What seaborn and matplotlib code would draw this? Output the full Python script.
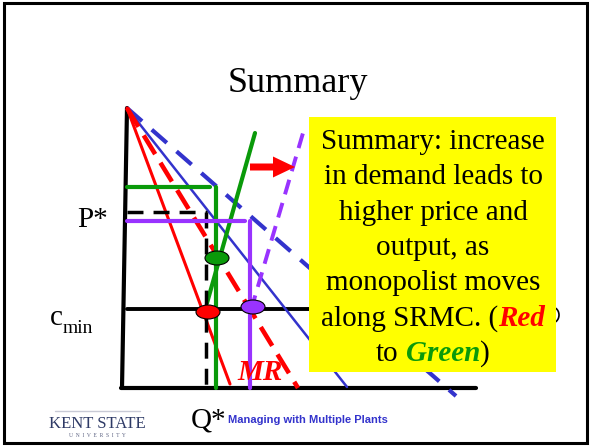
import matplotlib
matplotlib.use("Agg")
import matplotlib.pyplot as plt
from matplotlib.patches import Ellipse, Rectangle, FancyArrow, Arc
import seaborn as sns

# slide drawn in pixel units: x to the right, y downwards
W, H = 590, 448

# demand and marginal revenue curves, all from the price intercept
mr1_x = [127, 230]
mr1_y = [108, 384]
mr2_x = [127, 298]
mr2_y = [108, 388]
d1_x = [127, 347]
d1_y = [108, 387]
d2_x = [127, 456]
d2_y = [108, 396]

# short-run marginal cost curves
srmc1_x = [207, 255]
srmc1_y = [303, 133]
srmc2_x = [251, 303]
srmc2_y = [310, 133]

# price / quantity guide lines: (price level, quantity level, end of price line)
green_pq = [187, 216, 210]
black_pq = [212, 206, 207]
purple_pq = [221, 250, 245]
cmin_y = 309

# equilibrium points
eq_x = [217, 208, 253]
eq_y = [258, 312, 307]
eq_colors = ["#0a9a0a", "#ff0000", "#9933ff"]

box_lines = [
    [("Summary: increase", "black", "normal")],
    [("in demand leads to", "black", "normal")],
    [("higher price and", "black", "normal")],
    [("output, as", "black", "normal")],
    [("monopolist moves", "black", "normal")],
    [("along SRMC. (", "black", "normal"), ("Red", "#ff0000", "bold")],
    [("to", "black", "normal"), (" ", "black", "normal"), ("Green", "#0a9a0a", "bold"),
     (")", "black", "normal")],
]

sns.set_theme(style="white")
SERIF = ["Liberation Serif", "DejaVu Serif"]

fig = plt.figure(figsize=(W / 100, H / 100), dpi=100)
ax = fig.add_axes([0, 0, 1, 1])
ax.set_axis_off()


def seg(xs, ys, color, lw, ls="-", z=2):
    sns.lineplot(x=xs, y=ys, ax=ax, color=color, linewidth=lw, linestyle=ls,
                 sort=False, estimator=None, zorder=z)


BLUE = "#3333cc"
GREEN = "#0a9a0a"
RED = "#ff0000"
PURPLE = "#9933ff"

# axes
seg([127, 122], [108, 388], "black", 3)
seg([121, 476], [388, 388], "black", 3)
seg([127, 540], [cmin_y, cmin_y], "black", 2.8)

# curves
seg(d1_x, d1_y, BLUE, 1.8)
seg(d2_x, d2_y, BLUE, 3, (0, (4.8, 3.1)))
seg(mr1_x, mr1_y, RED, 2.2)
seg(mr2_x, mr2_y, RED, 3.3, (0, (4.8, 2.2)))
seg(srmc1_x, srmc1_y, GREEN, 3)
seg(srmc2_x, srmc2_y, PURPLE, 2.8, (0, (3.9, 2.3)))

# guides
p, q, e = green_pq
seg([127, e], [p, p], GREEN, 3)
seg([q, q], [p, 388], GREEN, 3)
p, q, e = black_pq
seg([127, e], [p, p], "black", 2.5, (0, (4.6, 2.9)))
seg([q, q], [p, 388], "black", 2.5, (0, (4.6, 2.9)))
p, q, e = purple_pq
seg([127, e], [p, p], PURPLE, 3)
seg([q, q], [p, 388], PURPLE, 3)

for x, y, c in zip(eq_x, eq_y, eq_colors):
    ax.add_patch(Ellipse((x, y), 24, 14, facecolor=c, edgecolor="black", lw=0.8, zorder=5))

ax.add_patch(FancyArrow(250, 167, 45, 0, width=7, head_width=21, head_length=22,
                        length_includes_head=True, color=RED, lw=0, zorder=4))

ax.text(237, 380, "MR", color=RED, fontsize=21, fontweight="bold", fontstyle="italic",
        family=SERIF, va="baseline", ha="left", zorder=6)

# axis labels
ax.text(108, 227, "P*", fontsize=21, family=SERIF, color="black", ha="right", va="baseline")
ax.text(50, 325, "c", fontsize=21, family=SERIF, color="black", ha="left", va="baseline")
ax.text(63, 333, "min", fontsize=14, family=SERIF, color="black", ha="left", va="baseline")
ax.text(191, 428, "Q*", fontsize=21, family=SERIF, color="black", ha="left", va="baseline")

ax.text(298, 92, "Summary", fontsize=26, family=SERIF, color="black", ha="center", va="baseline")

# summary box, with the edge of a hidden label peeking out on the right
ax.add_patch(Rectangle((309, 117), 247, 255, facecolor="#ffff00", edgecolor="none", zorder=7))
ax.add_patch(Arc((551, 315), 16, 17, theta1=-55, theta2=55, color="black", lw=1.2, zorder=6))

renderer = fig.canvas.get_renderer()
ax.set_xlim(0, W)
ax.set_ylim(H, 0)
for i, parts in enumerate(box_lines):
    y = 149 + 35.3 * i
    texts = []
    for s, c, wt in parts:
        st = "italic" if wt == "bold" else "normal"
        texts.append(ax.text(0, y, s, color=c, fontsize=21, fontweight=wt, fontstyle=st,
                             family=SERIF, ha="left", va="baseline", zorder=8))
    widths = []
    for t, (s, _, _) in zip(texts, parts):
        widths.append(7.3 if s == " " else t.get_window_extent(renderer).width)
    x = 433 - sum(widths) / 2
    for t, w in zip(texts, widths):
        t.set_x(x)
        x += w

# footer
ax.text(228, 423, "Managing with Multiple Plants", fontsize=8, fontweight="bold",
        color=BLUE, family=["Liberation Sans", "DejaVu Sans"], ha="left", va="baseline")
ax.text(97, 428, "KENT STATE", fontsize=12, family=SERIF, color="#2e3a66",
        ha="center", va="baseline")
ax.text(97, 437, "U  N  I  V  E  R  S  I  T  Y", fontsize=4, family=SERIF, color="#5a6080",
        ha="center", va="baseline")
seg([55, 140], [411, 411], "#c8cad6", 1)

# slide frame
ax.add_patch(Rectangle((3.5, 3.5), 583, 439.5, facecolor="none", edgecolor="black", lw=2.2,
                       zorder=10))

ax.set_xlim(0, W)
ax.set_ylim(H, 0)
fig.savefig("out.png", dpi=100)
